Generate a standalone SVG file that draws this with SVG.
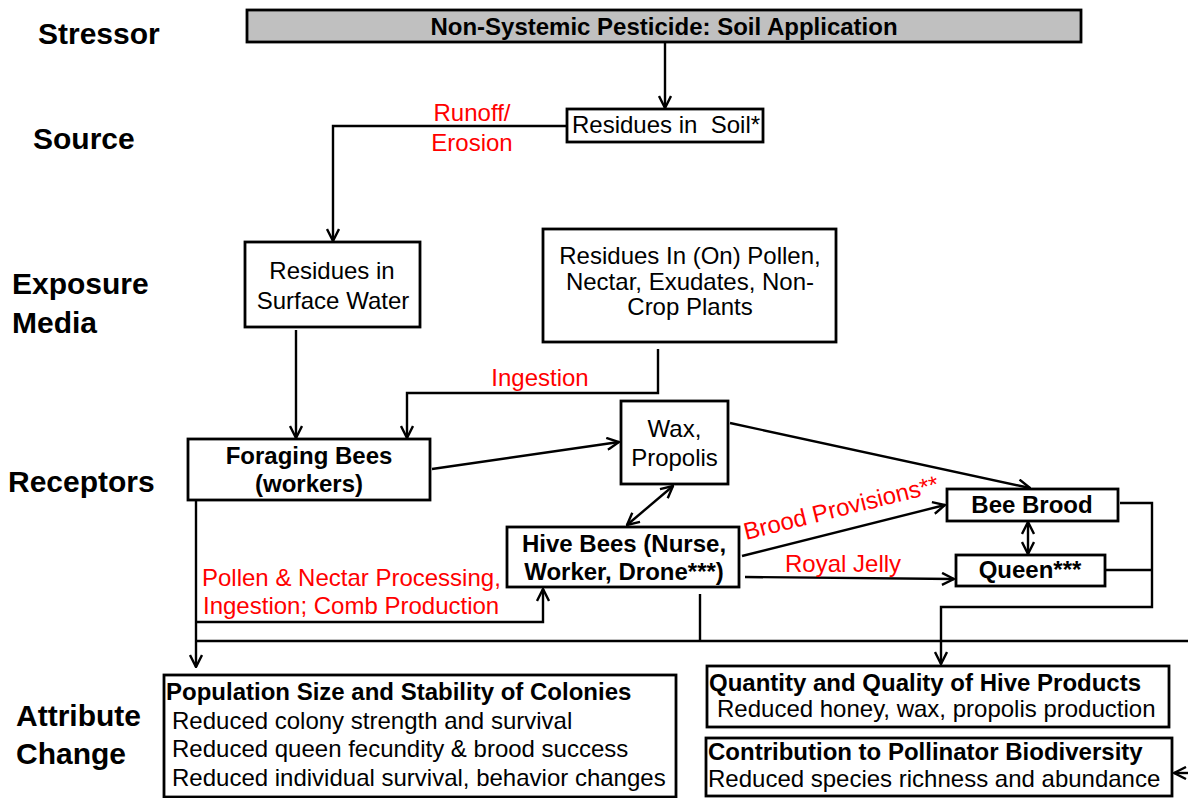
<svg xmlns="http://www.w3.org/2000/svg" width="1188" height="798" viewBox="0 0 1188 798">
<defs>
<marker id="arr" viewBox="0 0 14 14" refX="13" refY="7" markerWidth="14" markerHeight="14" markerUnits="userSpaceOnUse" orient="auto-start-reverse">
<path d="M1,1 L13,7 L1,13" fill="none" stroke="#000" stroke-width="2.4"/>
</marker>
</defs>
<style>
text{font-family:"Liberation Sans",Arial,sans-serif;fill:#000}
.lab{font-size:30px;font-weight:bold}
.b{font-size:24px;font-weight:bold}
.r{font-size:24px}
.red{font-size:24px;fill:#ff0000}
.c{text-anchor:middle}
.box{fill:#fff;stroke:#000;stroke-width:2.8}
.ln{fill:none;stroke:#000;stroke-width:2.4}
.ar{marker-end:url(#arr)}
.ar2{marker-start:url(#arr);marker-end:url(#arr)}
</style>
<rect width="1188" height="798" fill="#fff"/>
<g id="labels">
<text class="lab" x="38" y="44">Stressor</text>
<text class="lab" x="33" y="149">Source</text>
<text class="lab" x="12" y="294">Exposure</text>
<text class="lab" x="12" y="333">Media</text>
<text class="lab" x="8" y="492">Receptors</text>
<text class="lab" x="16" y="726">Attribute</text>
<text class="lab" x="16" y="764">Change</text>
</g>
<g id="connectors">
<path class="ln ar" d="M665,42 V108"/>
<path class="ln ar" d="M567,126 H333 V241"/>
<path class="ln ar" d="M296,330 V438"/>
<path class="ln ar" d="M658,349 V393 H407 V438"/>
<path class="ln ar" d="M432,469 L619,442"/>
<path class="ln ar" d="M730,423 L1030,488"/>
<path class="ln ar2" d="M673,486 L627,525"/>
<path class="ln ar" d="M742,556 L945,505"/>
<path class="ln ar" d="M745,577 L954,579"/>
<path class="ln ar2" d="M1028,522 V554"/>
<path class="ln ar" d="M1120,503 H1152 V607 H941 V664"/>
<path class="ln" d="M1105,570 H1152"/>
<path class="ln ar" d="M196,500 V667"/>
<path class="ln ar" d="M196,622 H543 V589"/>
<path class="ln" d="M196,641 H1188"/>
<path class="ln" d="M700,594 V641"/>
<path class="ln ar" d="M1192,773 L1174,773"/>
<text class="red c" x="472" y="121">Runoff/</text>
<text class="red c" x="472" y="151">Erosion</text>
<text class="red c" x="540" y="386">Ingestion</text>
<text class="red" x="202" y="586">Pollen &amp; Nectar Processing,</text>
<text class="red" x="203" y="614">Ingestion; Comb Production</text>
<text class="red" x="785" y="572">Royal Jelly</text>
<text class="red" transform="translate(746,540) rotate(-14)">Brood Provisions**</text>
</g>
<g id="stressor">
<rect x="247" y="10" width="834" height="32" fill="#c0c0c0" stroke="#000" stroke-width="2.8"/>
<text class="b c" x="664" y="35">Non-Systemic Pesticide: Soil Application</text>
</g>
<g id="soil">
<rect class="box" x="567" y="109" width="196" height="33"/>
<text class="r" x="572" y="133" xml:space="preserve">Residues in  Soil*</text>
</g>
<g id="surface-water">
<rect class="box" x="245" y="242" width="175" height="85"/>
<text class="r c" x="332" y="279">Residues in</text>
<text class="r c" x="333" y="309">Surface Water</text>
</g>
<g id="pollen">
<rect class="box" x="543" y="229" width="293" height="113"/>
<text class="r c" x="690" y="264">Residues In (On) Pollen,</text>
<text class="r c" x="690" y="290">Nectar, Exudates, Non-</text>
<text class="r c" x="690" y="315">Crop Plants</text>
</g>
<g id="foraging">
<rect class="box" x="188" y="439" width="242" height="61"/>
<text class="b c" x="309" y="464">Foraging Bees</text>
<text class="b c" x="309" y="492">(workers)</text>
</g>
<g id="wax">
<rect class="box" x="621" y="401" width="107" height="83"/>
<text class="r c" x="674.5" y="437">Wax,</text>
<text class="r c" x="674.5" y="466">Propolis</text>
</g>
<g id="hive-bees">
<rect class="box" x="507" y="527" width="232" height="60"/>
<text class="b c" x="624" y="552">Hive Bees (Nurse,</text>
<text class="b c" x="624" y="580">Worker, Drone***)</text>
</g>
<g id="bee-brood">
<rect class="box" x="947" y="489" width="171" height="32"/>
<text class="b c" x="1032" y="513">Bee Brood</text>
</g>
<g id="queen">
<rect class="box" x="956" y="555" width="149" height="31"/>
<text class="b c" x="1030" y="578">Queen***</text>
</g>
<g id="population">
<rect class="box" x="164" y="675" width="512" height="122"/>
<text class="b" x="166" y="700">Population Size and Stability of Colonies</text>
<text class="r" x="172" y="729">Reduced colony strength and survival</text>
<text class="r" x="172" y="757">Reduced queen fecundity &amp; brood success</text>
<text class="r" x="172" y="786">Reduced individual survival, behavior changes</text>
</g>
<g id="hive-products">
<rect class="box" x="707" y="666" width="462" height="61"/>
<text class="b" x="709" y="691">Quantity and Quality of Hive Products</text>
<text class="r" x="717" y="717">Reduced honey, wax, propolis production</text>
</g>
<g id="biodiversity">
<rect class="box" x="706" y="738" width="466" height="58"/>
<text class="b" x="708" y="760">Contribution to Pollinator Biodiversity</text>
<text class="r" x="708" y="787">Reduced species richness and abundance</text>
</g>
</svg>
